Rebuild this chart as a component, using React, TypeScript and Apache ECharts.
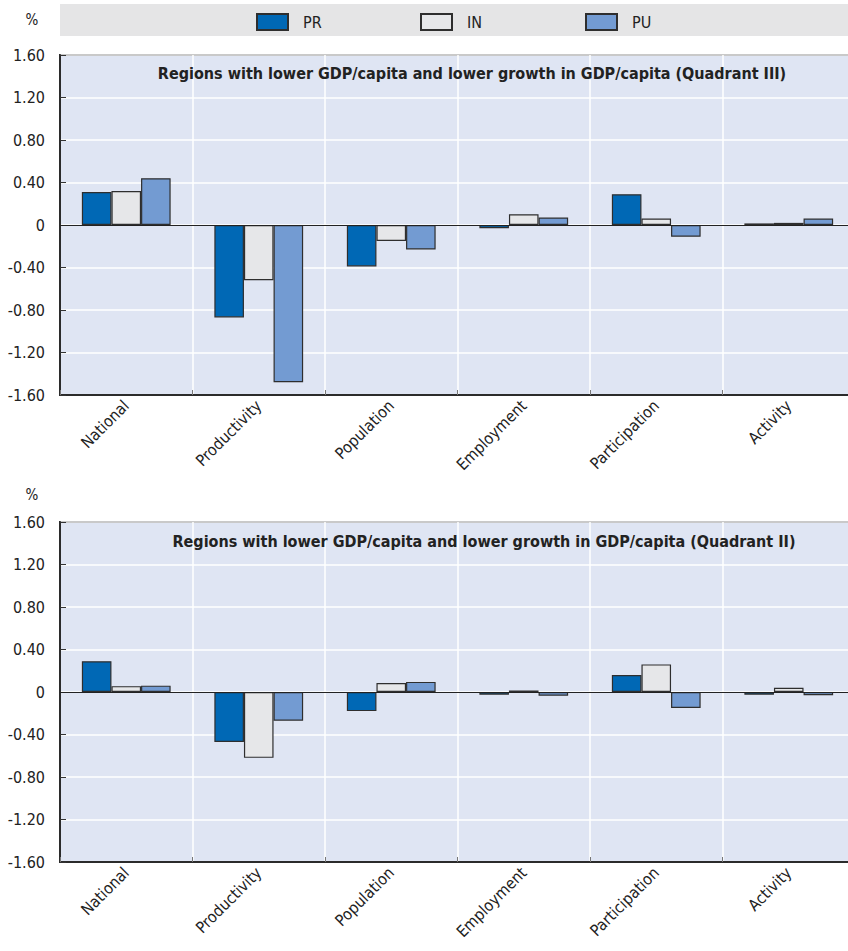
import React, { useEffect, useRef } from "react";
import * as echarts from "echarts";

const categories = ["National", "Productivity", "Population", "Employment", "Participation", "Activity"];
const seriesNames = ["PR", "IN", "PU"];
const q3PR = [0.31, -0.87, -0.39, -0.03, 0.29, 0.015];
const q3IN = [0.32, -0.52, -0.15, 0.1, 0.06, 0.02];
const q3PU = [0.44, -1.48, -0.23, 0.07, -0.11, 0.06];
const q2PR = [0.29, -0.47, -0.18, -0.025, 0.16, -0.025];
const q2IN = [0.055, -0.62, 0.085, 0.015, 0.26, 0.04];
const q2PU = [0.06, -0.27, 0.095, -0.035, -0.15, -0.03];
const titles = [
  "Regions with lower GDP/capita and lower growth in GDP/capita (Quadrant III)",
  "Regions with lower GDP/capita and lower growth in GDP/capita (Quadrant II)",
];

const FONT = "'Liberation Sans Narrow', 'DejaVu Sans Condensed', 'Arial Narrow', sans-serif";
const colors = ["#0068b5", "#e6e7e9", "#739bd2"];
const plotBg = "#dfe5f3";

export default function App() {
  const ref = useRef<HTMLDivElement>(null);
  useEffect(() => {
    if (!ref.current) return;
    const chart = echarts.init(ref.current, undefined, { renderer: "svg" });
    const gridTops = [55, 522];
    const grids = gridTops.map((t) => ({
      left: 60,
      width: 795,
      top: t,
      height: 340,
      show: true,
      backgroundColor: plotBg,
      borderColor: "#2b2b2b",
      borderWidth: 2,
      containLabel: false,
    }));
    const xAxes = gridTops.map((_, i) => ({
      type: "category",
      gridIndex: i,
      data: categories,
      axisLine: { show: true, onZero: false, lineStyle: { color: "#2b2b2b", width: 2 } },
      axisTick: { show: true, inside: true, length: 5, lineStyle: { color: "#777" } },
      splitLine: { show: true, lineStyle: { color: "#ffffff", width: 1.5 } },
      axisLabel: {
        rotate: 45,
        margin: 8,
        color: "#222",
        fontSize: 16,
        fontFamily: FONT,
      },
    }));
    const yAxes = gridTops.map((_, i) => ({
      type: "value",
      gridIndex: i,
      min: -1.6,
      max: 1.6,
      interval: 0.4,
      axisLine: { show: true, lineStyle: { color: "#2b2b2b", width: 2 } },
      axisTick: { show: true, inside: true, length: 6, lineStyle: { color: "#333" } },
      splitLine: { show: true, lineStyle: { color: "#ffffff", width: 1.5 } },
      axisLabel: {
        margin: 15,
        color: "#222",
        fontSize: 16,
        fontFamily: FONT,
        formatter: (v: number) => (Math.abs(v) < 1e-9 ? "0" : v.toFixed(2)),
      },
    }));
    const data = [
      [q3PR, q3IN, q3PU],
      [q2PR, q2IN, q2PU],
    ];
    const series: any[] = [];
    data.forEach((group, gi) => {
      group.forEach((vals, si) => {
        series.push({
          type: "bar",
          name: seriesNames[si],
          xAxisIndex: gi,
          yAxisIndex: gi,
          data: vals,
          barGap: "0%",
          barCategoryGap: "33%",
          itemStyle: { color: colors[si], borderColor: "#2e2e2e", borderWidth: 1.2 },
          markLine:
            si === 0
              ? {
                  silent: true,
                  symbol: "none",
                  label: { show: false },
                  lineStyle: { color: "#222", width: 1.2, type: "solid" },
                  data: [{ yAxis: 0 }],
                  z: 5,
                }
              : undefined,
        });
      });
    });
    const legendLefts = [251, 415, 580];
    const option = {
      animation: false,
      textStyle: { fontFamily: FONT },
      grid: grids,
      xAxis: xAxes,
      yAxis: yAxes,
      legend: seriesNames.map((n, i) => ({
        data: [n],
        left: legendLefts[i],
        top: 8,
        itemWidth: 31,
        itemHeight: 16,
        icon: "rect",
        selectedMode: false,
        textStyle: { fontSize: 16, color: "#222", fontFamily: FONT, padding: [0, 0, 0, 10] },
      })),
      graphic: [
        { type: "rect", z: -1, shape: { x: 60, y: 4, width: 798, height: 32 }, style: { fill: "#e5e5e6" } },
        { type: "text", x: 32, y: 20, style: { text: "%", font: `15px ${FONT}`, fill: "#222", textAlign: "center", textVerticalAlign: "middle" } },
        { type: "text", x: 32, y: 495, style: { text: "%", font: `15px ${FONT}`, fill: "#222", textAlign: "center", textVerticalAlign: "middle" } },
        { type: "text", x: 472, y: 73, z: 10, style: { text: titles[0], font: `bold 16px ${FONT}`, fill: "#222", textAlign: "center", textVerticalAlign: "middle" } },
        { type: "text", x: 484, y: 541, z: 10, style: { text: titles[1], font: `bold 16px ${FONT}`, fill: "#222", textAlign: "center", textVerticalAlign: "middle" } },
      ],
      series,
    };
    chart.setOption(option as any);
    return () => chart.dispose();
  }, []);
  return (
    <div style={{ position: "fixed", left: 0, top: 0, width: 848, height: 951, overflow: "hidden", background: "#fff" }}>
      <div ref={ref} style={{ width: 858, height: 951 }} />
    </div>
  );
}
